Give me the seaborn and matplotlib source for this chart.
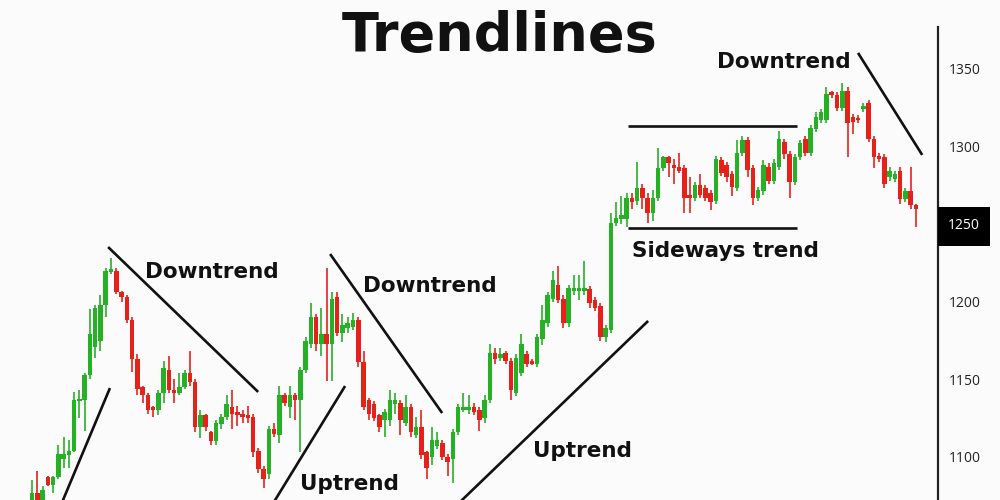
import pandas as pd
import matplotlib
matplotlib.use("Agg")
import matplotlib.pyplot as plt
import matplotlib.transforms as mtransforms
from matplotlib.patches import Rectangle
import seaborn as sns

# candle data (open, high, low, close)
opens = [1068, 1077, 1068, 1087, 1082, 1087, 1099, 1101, 1104, 1136, 1137, 1153, 1171, 1175, 1198, 1219,
         1220, 1206, 1203, 1188, 1163, 1145, 1140, 1132, 1130, 1141, 1156, 1143, 1141, 1145, 1154, 1148,
         1119, 1127, 1116, 1110, 1121, 1126, 1132, 1129, 1128, 1127, 1126, 1104, 1092, 1089, 1118, 1114,
         1140, 1132, 1140, 1137, 1156, 1173, 1190, 1173, 1179, 1173, 1203, 1180, 1183, 1184, 1188, 1161,
         1137, 1134, 1127, 1124, 1124, 1134, 1135, 1122, 1132, 1114, 1119, 1103, 1100, 1107, 1109, 1100,
         1099, 1116, 1130, 1130, 1132, 1130, 1125, 1137, 1167, 1164, 1167, 1162, 1141, 1154, 1166, 1162,
         1160, 1176, 1186, 1202, 1211, 1202, 1186, 1207, 1207, 1207, 1208, 1201, 1197, 1177, 1182, 1251,
         1253, 1253, 1267, 1265, 1273, 1267, 1257, 1267, 1286, 1293, 1288, 1287, 1286, 1269, 1267, 1275,
         1273, 1270, 1265, 1291, 1288, 1282, 1273, 1296, 1304, 1286, 1267, 1271, 1287, 1278, 1287, 1303,
         1295, 1277, 1293, 1305, 1296, 1311, 1317, 1317, 1335, 1333, 1325, 1336, 1319, 1318, 1324, 1328,
         1305, 1294, 1293, 1280, 1279, 1284, 1266, 1271, 1262]
highs = [1085, 1091, 1081, 1088, 1088, 1108, 1113, 1111, 1142, 1143, 1154, 1195, 1198, 1204, 1222, 1228,
         1222, 1207, 1204, 1190, 1166, 1146, 1141, 1133, 1143, 1162, 1165, 1150, 1154, 1156, 1168, 1150,
         1130, 1128, 1117, 1124, 1128, 1140, 1143, 1133, 1130, 1133, 1128, 1106, 1094, 1120, 1122, 1146,
         1141, 1146, 1141, 1158, 1177, 1199, 1192, 1196, 1222, 1206, 1206, 1192, 1190, 1193, 1190, 1168,
         1138, 1136, 1128, 1131, 1143, 1141, 1137, 1140, 1134, 1126, 1130, 1104, 1119, 1116, 1111, 1102,
         1118, 1134, 1141, 1140, 1135, 1132, 1140, 1173, 1170, 1170, 1168, 1164, 1166, 1179, 1168, 1163,
         1179, 1198, 1206, 1220, 1223, 1204, 1211, 1217, 1217, 1226, 1210, 1203, 1199, 1185, 1257, 1264,
         1268, 1270, 1270, 1290, 1276, 1270, 1272, 1299, 1294, 1294, 1292, 1296, 1288, 1280, 1277, 1282,
         1275, 1272, 1294, 1293, 1290, 1284, 1304, 1307, 1306, 1288, 1274, 1291, 1289, 1292, 1310, 1305,
         1297, 1295, 1304, 1307, 1314, 1322, 1324, 1338, 1336, 1335, 1341, 1338, 1321, 1320, 1328, 1330,
         1307, 1296, 1295, 1287, 1284, 1287, 1273, 1287, 1263]
lows = [1064, 1064, 1062, 1081, 1077, 1086, 1093, 1093, 1103, 1125, 1117, 1150, 1164, 1168, 1190, 1218,
        1205, 1200, 1186, 1155, 1140, 1135, 1128, 1126, 1127, 1135, 1141, 1135, 1140, 1144, 1146, 1116,
        1112, 1117, 1108, 1108, 1118, 1124, 1118, 1120, 1122, 1122, 1100, 1090, 1080, 1086, 1113, 1109,
        1133, 1125, 1124, 1103, 1154, 1170, 1168, 1165, 1149, 1149, 1178, 1174, 1180, 1182, 1158, 1130,
        1124, 1123, 1116, 1113, 1120, 1128, 1114, 1120, 1113, 1112, 1099, 1086, 1095, 1105, 1098, 1088,
        1083, 1114, 1129, 1128, 1127, 1117, 1122, 1135, 1160, 1162, 1160, 1137, 1139, 1152, 1158, 1159,
        1158, 1172, 1184, 1200, 1199, 1183, 1184, 1204, 1201, 1204, 1196, 1194, 1175, 1174, 1180, 1249,
        1250, 1248, 1260, 1262, 1260, 1251, 1252, 1265, 1284, 1280, 1276, 1283, 1257, 1257, 1265, 1267,
        1265, 1259, 1263, 1281, 1277, 1268, 1271, 1294, 1280, 1262, 1265, 1269, 1276, 1276, 1285, 1292,
        1267, 1275, 1291, 1294, 1294, 1309, 1315, 1315, 1331, 1323, 1323, 1293, 1308, 1315, 1322, 1303,
        1286, 1290, 1273, 1278, 1277, 1263, 1264, 1260, 1248]
closes = [1077, 1068, 1079, 1082, 1087, 1102, 1102, 1104, 1137, 1137, 1153, 1179, 1196, 1198, 1220, 1221,
          1206, 1203, 1188, 1163, 1144, 1140, 1130, 1130, 1141, 1157, 1143, 1141, 1145, 1154, 1148, 1119,
          1127, 1119, 1110, 1122, 1126, 1134, 1128, 1127, 1126, 1125, 1103, 1092, 1086, 1118, 1115, 1140,
          1135, 1140, 1137, 1156, 1175, 1190, 1173, 1179, 1173, 1202, 1180, 1185, 1186, 1188, 1161, 1132,
          1128, 1125, 1119, 1129, 1137, 1137, 1124, 1132, 1116, 1119, 1101, 1093, 1111, 1111, 1100, 1097,
          1116, 1132, 1132, 1132, 1129, 1124, 1137, 1167, 1163, 1166, 1162, 1143, 1164, 1173, 1160, 1160,
          1177, 1188, 1204, 1214, 1201, 1186, 1209, 1209, 1209, 1209, 1199, 1196, 1177, 1183, 1251, 1254,
          1256, 1267, 1264, 1273, 1267, 1257, 1267, 1286, 1293, 1289, 1286, 1284, 1267, 1267, 1275, 1269,
          1267, 1264, 1292, 1283, 1280, 1274, 1296, 1304, 1285, 1267, 1272, 1288, 1278, 1289, 1305, 1295,
          1277, 1293, 1302, 1296, 1312, 1319, 1322, 1334, 1333, 1325, 1336, 1315, 1316, 1317, 1326, 1305,
          1293, 1292, 1276, 1284, 1282, 1266, 1271, 1262, 1260]

# trendlines as (start index, start price, end index, end price)
trend_lines = [
    (5.1, 1066, 14.8, 1144.4),
    (14.45, 1235.2, 42.97, 1141.9),
    (45.06, 1066, 59.5, 1145.7),
    (56.65, 1230.7, 77.95, 1128.3),
    (79.8, 1066, 117.1, 1187.6),
    (113.3, 1313.2, 145.4, 1313.2),
    (113.3, 1247.5, 145.4, 1247.5),
    (157.0, 1360.2, 169.2, 1294.5),
]
label_texts = ["Downtrend", "Downtrend", "Uptrend", "Uptrend", "Sideways trend", "Downtrend"]
label_x = [21.5, 62.9, 51.0, 95.2, 114.1, 130.2]
label_y = [1215.3, 1206.3, 1079.0, 1100.0, 1228.8, 1350.5]
y_ticks = [1100, 1150, 1200, 1250, 1300, 1350]
current_price = 1250

df = pd.DataFrame({"open": opens, "high": highs, "low": lows, "close": closes})
df["idx"] = range(len(df))
df["up"] = df["close"] >= df["open"]

sns.set_theme(style="white")
plt.rcParams["font.family"] = ["DejaVu Sans"]

GREEN = "#26b026"
RED = "#e5221a"

fig = plt.figure(figsize=(10, 5), dpi=100)
fig.patch.set_facecolor("#fbfbfb")
ax = fig.add_axes([0, 0, 0.938, 0.946])
ax.set_facecolor("#fbfbfb")

colors = df["up"].map({True: GREEN, False: RED})
ax.vlines(df["idx"], df["low"], df["high"], colors=colors, linewidth=1.2, zorder=2)
body_low = df[["open", "close"]].min(axis=1)
body_h = (df["close"] - df["open"]).abs().clip(lower=1.5)
ax.bar(df["idx"], body_h, bottom=body_low, width=0.86, color=colors, linewidth=0, zorder=3)

for x0, y0, x1, y1 in trend_lines:
    ax.plot([x0, x1], [y0, y1], color="#111111", linewidth=1.9, solid_capstyle="butt", zorder=4)

for t, x, y in zip(label_texts, label_x, label_y):
    ax.text(x, y, t, ha="left", va="baseline", fontsize=15.5, fontweight="bold", color="#111111", zorder=5)

ax.set_xlim(-6.1, 172.2)
ax.set_ylim(1072.3, 1376.9)
ax.set_xticks([])
ax.yaxis.tick_right()
ax.set_yticks(y_ticks)
ax.set_yticklabels(["" if v == current_price else str(v) for v in y_ticks],
                   fontfamily="Open Sans", fontsize=10, color="#222222")
ax.tick_params(axis="y", length=0, pad=8)
sns.despine(ax=ax, left=True, bottom=True, top=True, right=False)
ax.spines["right"].set_color("#222222")
ax.spines["right"].set_linewidth(1.6)

# black box with the current price
trans = mtransforms.blended_transform_factory(ax.transAxes, ax.transData)
ax.add_patch(Rectangle((1.0, current_price - 14.2), 52 / 938, 25.1, transform=trans,
                       facecolor="black", edgecolor="none", clip_on=False, zorder=6))
ax.text(1.0 + 10 / 938, current_price - 1.2, str(current_price), transform=trans, ha="left", va="center",
        fontfamily="Open Sans", fontsize=10, color="white", clip_on=False, zorder=7)

fig.text(0.5, 0.898, "Trendlines", ha="center", va="baseline", fontsize=39,
         fontweight="bold", color="#111111")

fig.savefig("out.png", dpi=100, facecolor=fig.get_facecolor())
